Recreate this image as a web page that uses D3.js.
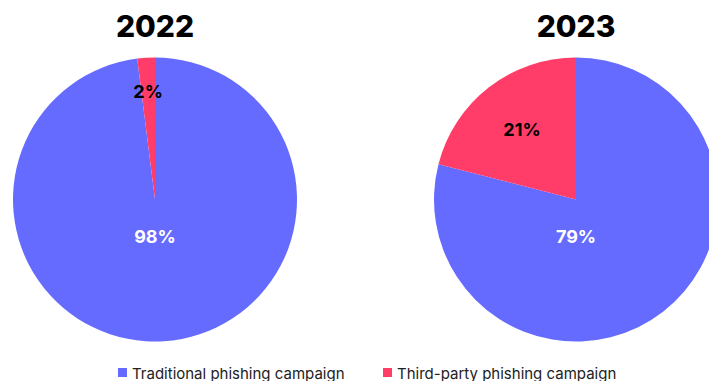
<!DOCTYPE html>
<html>
<head>
<meta charset="utf-8">
<script src="https://cdn.jsdelivr.net/npm/d3@7"></script>
<style>
  body { margin: 0; background: #fff; }
  svg { display: block; font-family: Inter, "Noto Sans", sans-serif; }
</style>
</head>
<body>
<div id="chart"></div>
<script>
(() => {
    // data
    let years = ["2022", "2023"];
    let categories = ["Traditional phishing campaign", "Third-party phishing campaign"];
    let values2022 = [98, 2];
    let values2023 = [79, 21];
    let colors = ["#666bff", "#ff3d68"];

    let w = 709;
    let h = 381;
    let r = 142;
    let centers = [[155, 199.5], [576, 199.5]];
    let smallLabelR = [0.765, 0.62]; // how far out the small-slice label sits
    let series = [values2022, values2023];

    let svg = d3.select("#chart")
        .append("svg")
        .attr("width", w)
        .attr("height", h);

    let pie = d3.pie()
        .sort(null)
        .value((d) => d);

    let arc = d3.arc()
        .innerRadius(0)
        .outerRadius(r);

    series.forEach((vals, k) => {
        let g = svg.append("g")
            .attr("transform", "translate(" + centers[k][0] + "," + centers[k][1] + ")");

        let arcs = pie(vals);

        g.selectAll("path")
            .data(arcs)
            .enter()
            .append("path")
            .attr("d", arc)
            .attr("fill", (d, i) => colors[i])
            .attr("stroke", "none");

        g.selectAll("text.lbl")
            .data(arcs)
            .enter()
            .append("text")
            .attr("class", "lbl")
            .attr("transform", (d, i) => {
                if (i === 0) {
                    return "translate(0," + (r * 0.26) + ")";
                }
                let a = (d.startAngle + d.endAngle) / 2;
                let rr = r * smallLabelR[k];
                return "translate(" + (Math.sin(a) * rr) + "," + (-Math.cos(a) * rr) + ")";
            })
            .attr("text-anchor", "middle")
            .attr("dominant-baseline", "central")
            .attr("font-size", 18)
            .attr("font-weight", 700)
            .attr("fill", (d, i) => i === 0 ? "#ffffff" : "#000000")
            .text((d) => d.data + "%");

        svg.append("text")
            .attr("x", centers[k][0])
            .attr("y", 37)
            .attr("text-anchor", "middle")
            .attr("font-size", 30)
            .attr("font-weight", 800)
            .attr("fill", "#000")
            .text(years[k]);
    });

    // legend
    let legendX = [118, 383];
    let legend = svg.selectAll("g.legend")
        .data(categories)
        .enter()
        .append("g")
        .attr("class", "legend")
        .attr("transform", (d, i) => "translate(" + legendX[i] + ",368)");

    legend.append("rect")
        .attr("width", 9)
        .attr("height", 9)
        .attr("fill", (d, i) => colors[i]);

    legend.append("text")
        .attr("x", 14)
        .attr("y", 10.5)
        .attr("font-size", 15)
        .attr("fill", "#222")
        .text((d) => d);
})();
</script>
</body>
</html>
